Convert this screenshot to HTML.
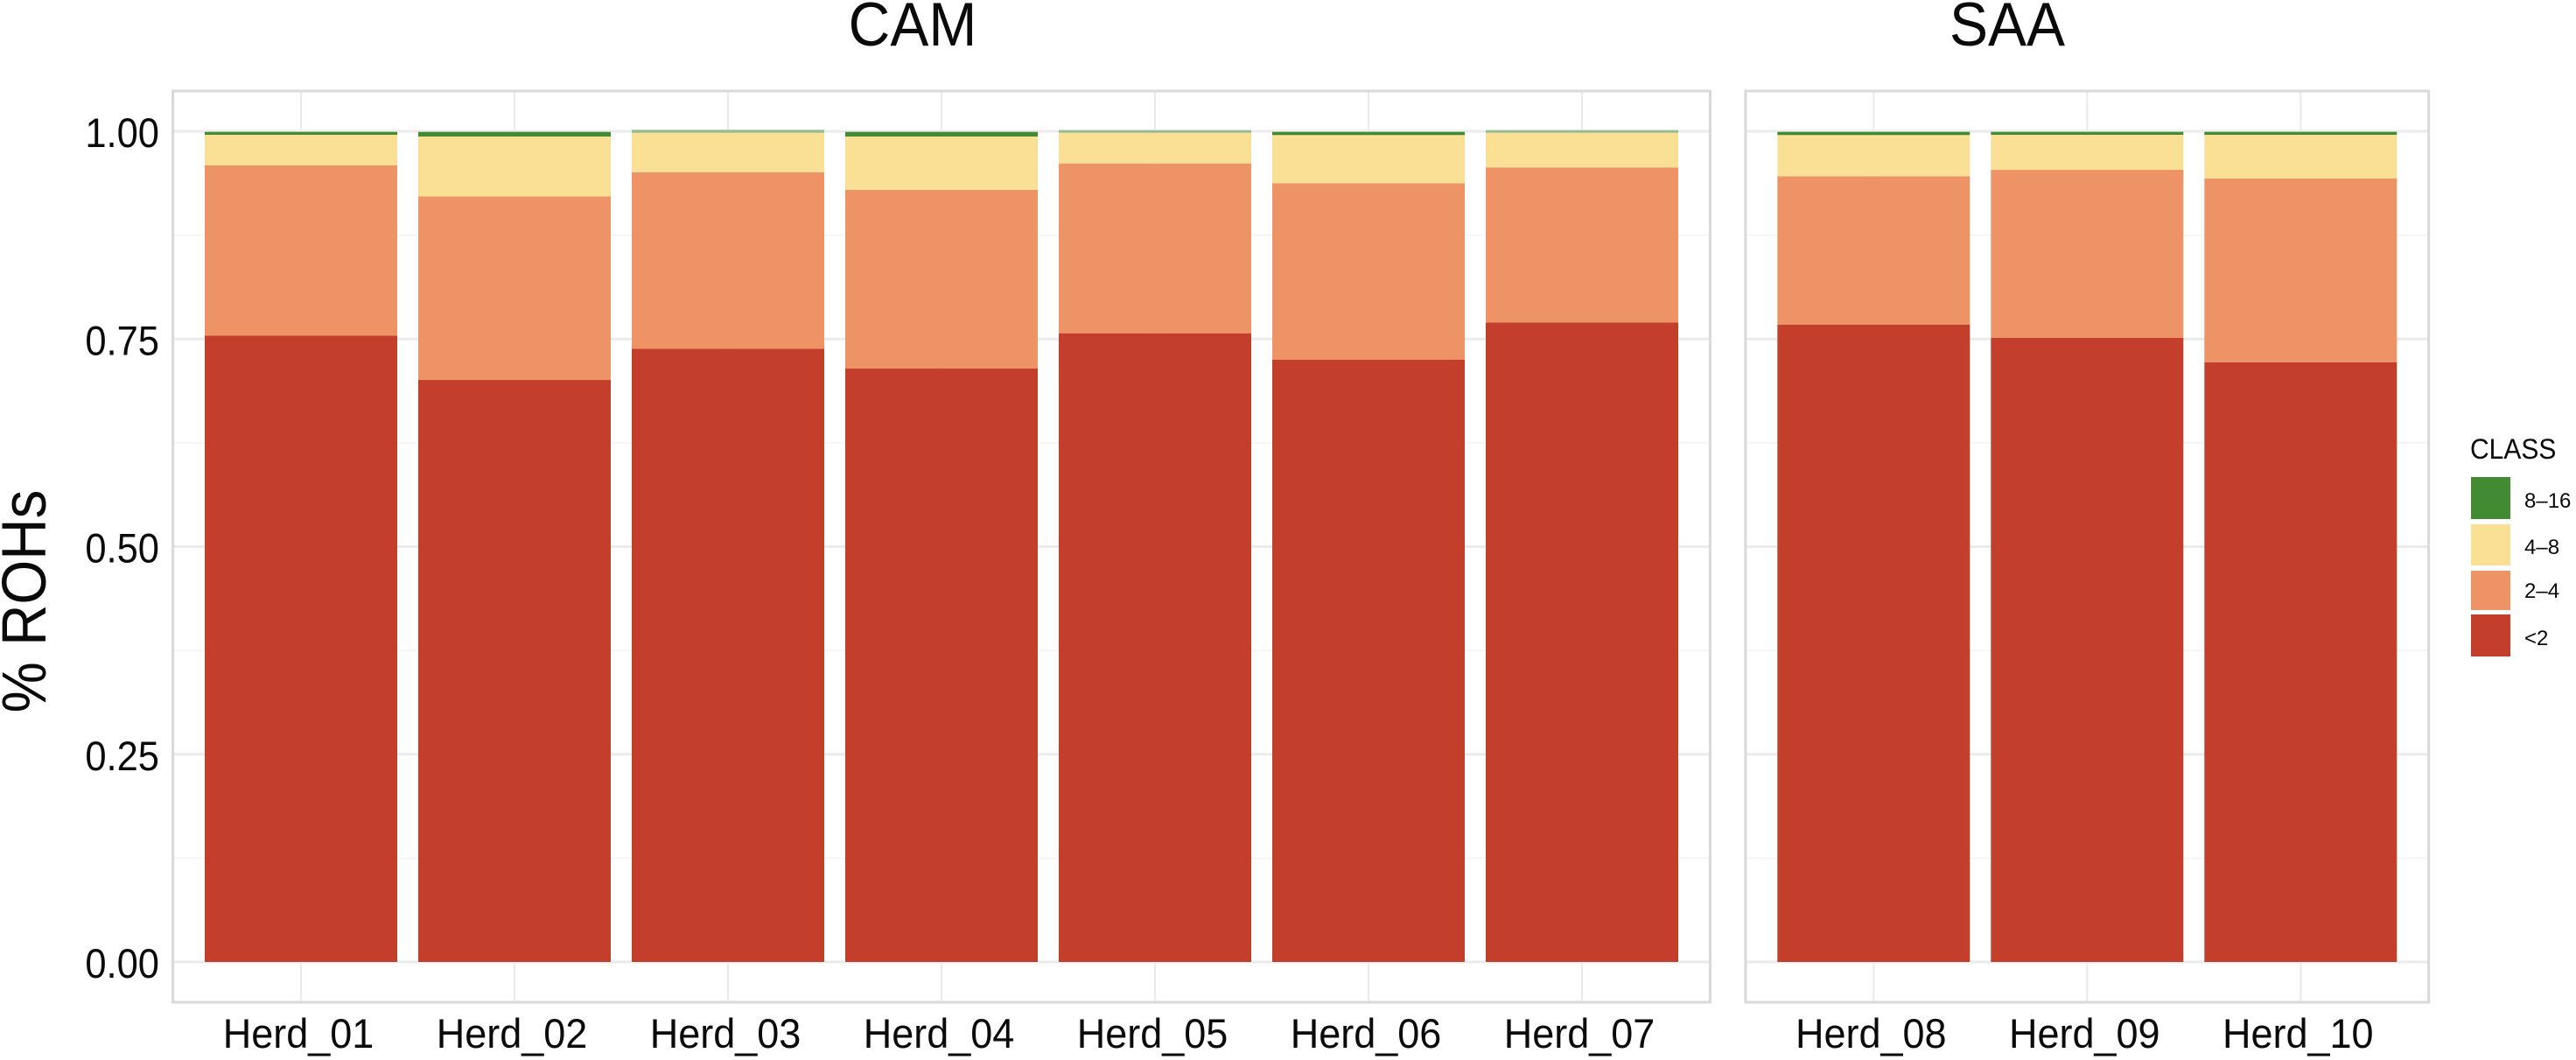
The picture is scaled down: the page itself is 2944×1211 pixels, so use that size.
<!DOCTYPE html>
<html lang="en">
<head>
<meta charset="utf-8">
<title>% ROHs by herd</title>
<style>
html,body{margin:0;padding:0;background:#fff;}
svg{display:block;}
text{font-family:"Liberation Sans",Arial,sans-serif;fill:#0a0a0a;}
</style>
</head>
<body>
<svg id="chart" xmlns="http://www.w3.org/2000/svg" width="2944" height="1211" viewBox="0 0 2944 1211">
  <rect x="0" y="0" width="2944" height="1211" fill="#ffffff"/>
  <g id="panels"></g>
  <text transform="translate(1043,52) scale(1,1.07)" text-anchor="middle" font-size="66">CAM</text>
  <text transform="translate(2294,52) scale(1,1.07)" text-anchor="middle" font-size="66">SAA</text>
  <text transform="translate(52,687) rotate(-90) scale(1,1.09)" text-anchor="middle" font-size="65.5">% ROHs</text>
  <g>
    <text transform="translate(2823,524) scale(1,1.08)" font-size="30" fill="#222">CLASS</text>
    <rect x="2824" y="545" width="45" height="48" fill="#438B33"/>
    <rect x="2824" y="599" width="45" height="47" fill="#F9E095"/>
    <rect x="2824" y="652" width="45" height="45" fill="#EE9366"/>
    <rect x="2824" y="702" width="45" height="48" fill="#C43F2B"/>
    <text x="2885" y="580" font-size="24" fill="#444">8–16</text>
    <text x="2885" y="633" font-size="24" fill="#444">4–8</text>
    <text x="2885" y="683" font-size="24" fill="#444">2–4</text>
    <text x="2885" y="737" font-size="24" fill="#444">&lt;2</text>
  </g>
</svg>
<script>
// ---- chart data ----
const camHerds = ['Herd_01','Herd_02','Herd_03','Herd_04','Herd_05','Herd_06','Herd_07'];
const saaHerds = ['Herd_08','Herd_09','Herd_10'];
const classNames = ['lt2','2-4','4-8','8-16'];
const camLt2 = [0.7542,0.7007,0.7383,0.7144,0.7569,0.7250,0.7700];
const cam2to4 = [0.2047,0.2210,0.2125,0.2150,0.2044,0.2125,0.1865];
const cam4to8 = [0.0369,0.0720,0.0474,0.0643,0.0369,0.0580,0.0417];
const cam8to16 = [0.0035,0.0056,0.0036,0.0056,0.0032,0.0038,0.0032];
const saaLt2 = [0.7674,0.7513,0.7221];
const saa2to4 = [0.1785,0.2023,0.2210];
const saa4to8 = [0.0496,0.0422,0.0527];
const saa8to16 = [0.0038,0.0035,0.0035];
const yTickValues = [0,0.25,0.5,0.75,1];
const yMinorValues = [0.125,0.375,0.625,0.875];
const yTickLabels = ['0.00','0.25','0.50','0.75','1.00'];

// ---- layout and axis functions ----
const NS = 'http://www.w3.org/2000/svg';
const classColors = ['#C43F2B','#EE9366','#F9E095','#438B33'];
const fadedGreenHerds = ['Herd_03','Herd_05','Herd_07'];
const STEP = 244;
const BAR_W = 220;
const PANEL_TOP = 104;
const PANEL_BOTTOM = 1145;
const yScale = v => 1099 - 949 * v;
const xScale = (panelLeft, i) => panelLeft + STEP * (0.6 + i);
const root = document.getElementById('panels');

function line(parent, x1, y1, x2, y2, color, width) {
  const el = document.createElementNS(NS, 'line');
  el.setAttribute('x1', x1);
  el.setAttribute('y1', y1);
  el.setAttribute('x2', x2);
  el.setAttribute('y2', y2);
  el.setAttribute('stroke', color);
  el.setAttribute('stroke-width', width);
  parent.appendChild(el);
  return el;
}

function drawPanel(name, left, herds, series, showY) {
  const right = left + STEP * (herds.length - 1 + 1.2);
  const g = document.createElementNS(NS, 'g');
  
  
  root.appendChild(g);

  yMinorValues.forEach(v => {
    const el = line(g, left, yScale(v), right, yScale(v), '#f3f3f3', 1.5);
    
    
  });
  yTickValues.forEach(v => {
    const el = line(g, left, yScale(v), right, yScale(v), '#ebebeb', 3);
    
    
  });
  herds.forEach((h, i) => {
    const el = line(g, xScale(left, i), PANEL_TOP, xScale(left, i), PANEL_BOTTOM, '#ebebeb', 2.2);
    
    
  });

  herds.forEach((h, i) => {
    let cum = 0;
    series.forEach((values, s) => {
      const top = cum + values[i];
      const r = document.createElementNS(NS, 'rect');
      
      
      r.setAttribute('x', xScale(left, i) - BAR_W / 2);
      r.setAttribute('width', BAR_W);
      r.setAttribute('y', yScale(top));
      r.setAttribute('height', yScale(cum) - yScale(top));
      r.setAttribute('fill', classColors[s]);
      if (s === 3 && fadedGreenHerds.includes(h)) r.setAttribute('fill-opacity', '0.5');
      g.appendChild(r);
      cum = top;
    });

    const lab = document.createElementNS(NS, 'text');
    
    
    lab.setAttribute('transform', 'translate(' + (xScale(left, i) - 3) + ',1197) scale(1,1.06)');
    lab.setAttribute('text-anchor', 'middle');
    lab.setAttribute('font-size', '45');
    lab.textContent = h;
    g.appendChild(lab);
  });

  const border = document.createElementNS(NS, 'rect');
  
  
  border.setAttribute('x', left);
  border.setAttribute('y', PANEL_TOP);
  border.setAttribute('width', right - left);
  border.setAttribute('height', PANEL_BOTTOM - PANEL_TOP);
  border.setAttribute('fill', 'none');
  border.setAttribute('stroke', '#d9d9d9');
  border.setAttribute('stroke-width', '3');
  g.appendChild(border);

  if (showY) {
    yTickValues.forEach((v, i) => {
      const t = document.createElementNS(NS, 'text');
      
      
      t.setAttribute('transform', 'translate(182,' + (yScale(v) + 18) + ') scale(1,1.09)');
      t.setAttribute('text-anchor', 'end');
      t.setAttribute('font-size', '43.5');
      t.textContent = yTickLabels[i];
      g.appendChild(t);
    });
  }
}

drawPanel('cam', 197.6, camHerds, [camLt2, cam2to4, cam4to8, cam8to16], true);
drawPanel('saa', 1994.9, saaHerds, [saaLt2, saa2to4, saa4to8, saa8to16], false);
</script>
</body>
</html>
